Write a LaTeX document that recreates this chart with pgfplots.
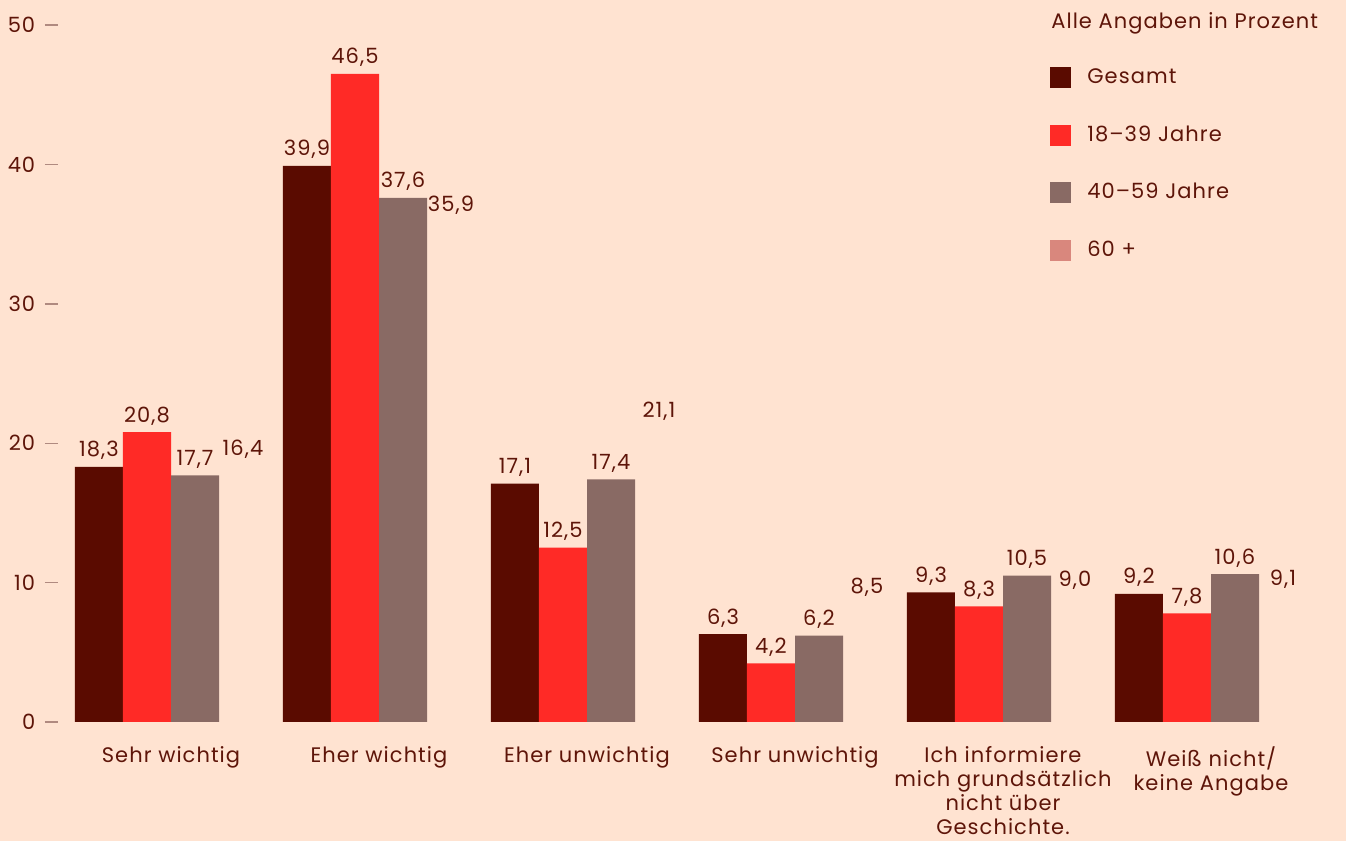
\documentclass[border=0pt]{standalone}
\usepackage{pgfplots}
\pgfplotsset{compat=1.18}
\usepackage{fontspec}
\setmainfont{Poppins}[LetterSpace=5]
\newcommand{\myfont}{\fontsize{10.5}{12}\selectfont}
\definecolor{bg}{HTML}{FFE3D1}
\definecolor{cA}{HTML}{5A0B00}
\definecolor{cB}{HTML}{FF2A26}
\definecolor{cC}{HTML}{896A64}
\definecolor{cD}{HTML}{D9877D}
\definecolor{txt}{HTML}{5E1509}
\definecolor{tk}{HTML}{B08A80}
\begin{document}
\begin{tikzpicture}
\fill[bg] (0,0) rectangle (673pt,420.5pt);
\useasboundingbox (0,0) rectangle (673pt,420.5pt);
\begin{axis}[
  at={(29pt,59.5pt)}, anchor=south west,
  scale only axis, width=638.9pt, height=348.5pt,
  xmin=-0.543269, xmax=5.6, ymin=0, ymax=50,
  axis lines*=left,
  axis line style={draw=none},
  ybar=0pt, bar width=24pt,
  ytick={0,10,20,30,40,50},
  xtick={0,1,2,3,4,5},
  xticklabels={{Sehr wichtig},{Eher wichtig},{Eher unwichtig},{Sehr unwichtig},{Ich informiere\\mich grundsätzlich\\nicht über\\Geschichte.},{Weiß nicht/\\keine Angabe}},
  x tick style={draw=none},
  y tick style={draw=tk, line width=0.7pt},
  ytick align=outside,
  major tick length=6.5pt,
  /pgf/number format/assume math mode=true,
  yticklabel style={anchor=east, inner sep=0pt, xshift=-4.7pt, font=\myfont, text=txt},
  xticklabel style={align=center, anchor=north, inner sep=0pt, yshift=-5.5pt, font=\myfont, text=txt},
  nodes near coords={\pgfmathprintnumber[fixed, fixed zerofill, precision=1, use comma, assume math mode=true]{\pgfplotspointmeta}},
  every node near coord/.append style={anchor=base, inner sep=0pt, yshift=5pt, font=\myfont, text=txt},
  legend style={at={(axis description cs:0.7763,0.9402)}, anchor=north west, draw=none, fill=none, inner sep=0pt,
    row sep=18.25pt, column sep=0pt, font=\myfont, text=txt,
    nodes={inner sep=0pt, inner xsep=8pt, anchor=west}},
  legend cell align=left,
  legend image code/.code={\fill[#1] (0pt,-5.25pt) rectangle (10.5pt,5.25pt);},
  clip=false,
]
\addplot[fill=cA, draw=none] coordinates {(0,18.3) (1,39.9) (2,17.1) (3,6.3) (4,9.3) (5,9.2)};
\addplot[fill=cB, draw=none] coordinates {(0,20.8) (1,46.5) (2,12.5) (3,4.2) (4,8.3) (5,7.8)};
\addplot[fill=cC, draw=none] coordinates {(0,17.7) (1,37.6) (2,17.4) (3,6.2) (4,10.5) (5,10.6)};
\addplot[fill=none, draw=none,
  legend image code/.code={\fill[cD] (0pt,-5.25pt) rectangle (10.5pt,5.25pt);},
  visualization depends on={\thisrow{dy} \as \dy},
  every node near coord/.append style={yshift=\dy pt}]
  table[x=x, y=y] {
x y dy
0 16.4 14
1 35.9 0
2 21.1 0
3 8.5 0
4 9.0 0
5 9.1 0
};
\legend{Gesamt, 18--39 Jahre, 40--59 Jahre, 60 +}
\node[anchor=base west, inner sep=0pt, text=txt, font=\myfont] at (axis description cs:0.7771,0.9943) {Alle Angaben in Prozent};
\end{axis}
\end{tikzpicture}
\end{document}
